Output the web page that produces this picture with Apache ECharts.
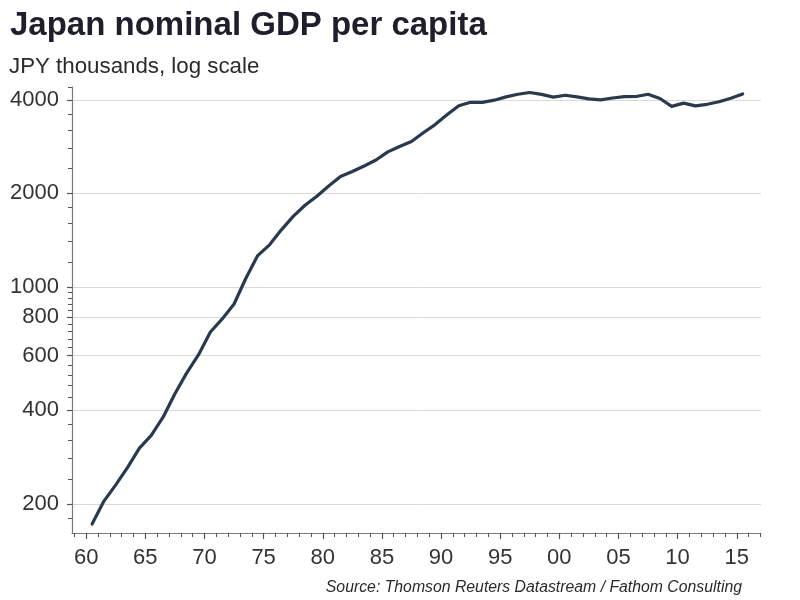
<!DOCTYPE html>
<html><head><meta charset="utf-8">
<script src="https://cdn.jsdelivr.net/npm/echarts@6/dist/echarts.min.js"></script>
<style>html,body{margin:0;padding:0;background:#fff}#c{width:800px;height:600px}</style>
</head><body><div id="c"></div>
<script>
// Annual data, plotted at mid-year
const years = [1960,1961,1962,1963,1964,1965,1966,1967,1968,1969,
  1970,1971,1972,1973,1974,1975,1976,1977,1978,1979,
  1980,1981,1982,1983,1984,1985,1986,1987,1988,1989,
  1990,1991,1992,1993,1994,1995,1996,1997,1998,1999,
  2000,2001,2002,2003,2004,2005,2006,2007,2008,2009,
  2010,2011,2012,2013,2014,2015];
const gdpPerCapita = [172,204,230,262,302,332,380,452,528,604,
  715,788,880,1065,1260,1365,1525,1685,1830,1958,
  2110,2265,2350,2450,2560,2720,2830,2935,3135,3330,
  3580,3830,3930,3925,3990,4090,4170,4225,4165,4080,
  4140,4090,4030,4000,4055,4095,4100,4170,4040,3810,
  3905,3825,3870,3945,4050,4180];
const yLabelValues = [200,400,600,800,1000,2000,4000];
const yMinorTicks = [180,240,280,320,360,440,480,520,560,640,680,720,760,840,880,920,960,1200,1400,1600,1800,2400,2800,3200,3600,4400];
const xLabelYears = [1960,1965,1970,1975,1980,1985,1990,1995,2000,2005,2010,2015];
const xMinorYears = [1959,1960,1961,1962,1963,1964,1965,1966,1967,1968,1969,
  1970,1971,1972,1973,1974,1975,1976,1977,1978,1979,
  1980,1981,1982,1983,1984,1985,1986,1987,1988,1989,
  1990,1991,1992,1993,1994,1995,1996,1997,1998,1999,
  2000,2001,2002,2003,2004,2005,2006,2007,2008,2009,
  2010,2011,2012,2013,2014,2015,2016,2017];

const FONT = "'Liberation Sans', Arial, Helvetica, sans-serif";
const chart = echarts.init(document.getElementById('c'), null, {renderer: 'canvas'});
const X_MIN = 1958.8, X_MAX = 2017.05, Y_MIN = 161, Y_MAX = 4400;
const option = {
  animation: false,
  backgroundColor: '#ffffff',
  title: [
    {text: 'Japan nominal GDP per capita', left: 10, top: 9, padding: 0,
     textStyle: {fontFamily: FONT, fontSize: 33, fontWeight: 'bold', color: '#1e1f2b'}},
    {text: 'JPY thousands, log scale', left: 9, top: 56, padding: 0,
     textStyle: {fontFamily: FONT, fontSize: 22.3, fontWeight: 'normal', color: '#2a2a2a'}},
    {text: 'Source: Thomson Reuters Datastream / Fathom Consulting', right: 58, top: 580, padding: 0,
     textStyle: {fontFamily: FONT, fontSize: 15.8, fontStyle: 'italic', fontWeight: 'normal', color: '#2a2a2a'}}
  ],
  grid: {left: 72, right: 39, top: 87, bottom: 67, containLabel: false, outerBoundsMode: 'none'},
  xAxis: [
    {type: 'value', min: X_MIN, max: X_MAX, position: 'bottom',
     axisLine: {show: true, lineStyle: {color: '#7a7a7a', width: 1.2}},
     axisTick: {show: true, customValues: xLabelYears, length: 6, inside: false, lineStyle: {color: '#555', width: 1.2}},
     axisLabel: {show: true, customValues: xLabelYears, margin: 14, fontFamily: FONT, fontSize: 22, color: '#333',
       formatter: v => String(Math.round(v) % 100).padStart(2, '0')},
     splitLine: {show: false}},
    {type: 'value', min: X_MIN, max: X_MAX, position: 'bottom', gridIndex: 0,
     axisLine: {show: false},
     axisTick: {show: true, customValues: xMinorYears, length: 4, lineStyle: {color: '#555', width: 1}},
     axisLabel: {show: false}, splitLine: {show: false}}
  ],
  yAxis: [
    {type: 'log', logBase: 10, min: Y_MIN, max: Y_MAX, position: 'left',
     axisLine: {show: true, lineStyle: {color: '#7a7a7a', width: 1.2}},
     axisTick: {show: true, customValues: yLabelValues, length: 5, lineStyle: {color: '#555', width: 1.2}},
     axisLabel: {show: true, customValues: yLabelValues, margin: 13, fontFamily: FONT, fontSize: 22, color: '#333',
       formatter: v => String(Math.round(v))},
     splitLine: {show: true, lineStyle: {color: '#d9d9d9', width: 1}}},
    {type: 'log', logBase: 10, min: Y_MIN, max: Y_MAX, position: 'left', offset: 0, gridIndex: 0,
     axisLine: {show: false},
     axisTick: {show: true, customValues: yMinorTicks, length: 4, lineStyle: {color: '#555', width: 1}},
     axisLabel: {show: false}, splitLine: {show: false}}
  ],
  series: [{
    type: 'line', xAxisIndex: 0, yAxisIndex: 0,
    data: years.map((y, i) => [y + 0.5, gdpPerCapita[i]]),
    showSymbol: false, symbol: 'none',
    lineStyle: {color: '#2a3a4e', width: 3.2, join: 'round', cap: 'round'},
    z: 5
  }]
};
chart.setOption(option);
</script></body></html>
